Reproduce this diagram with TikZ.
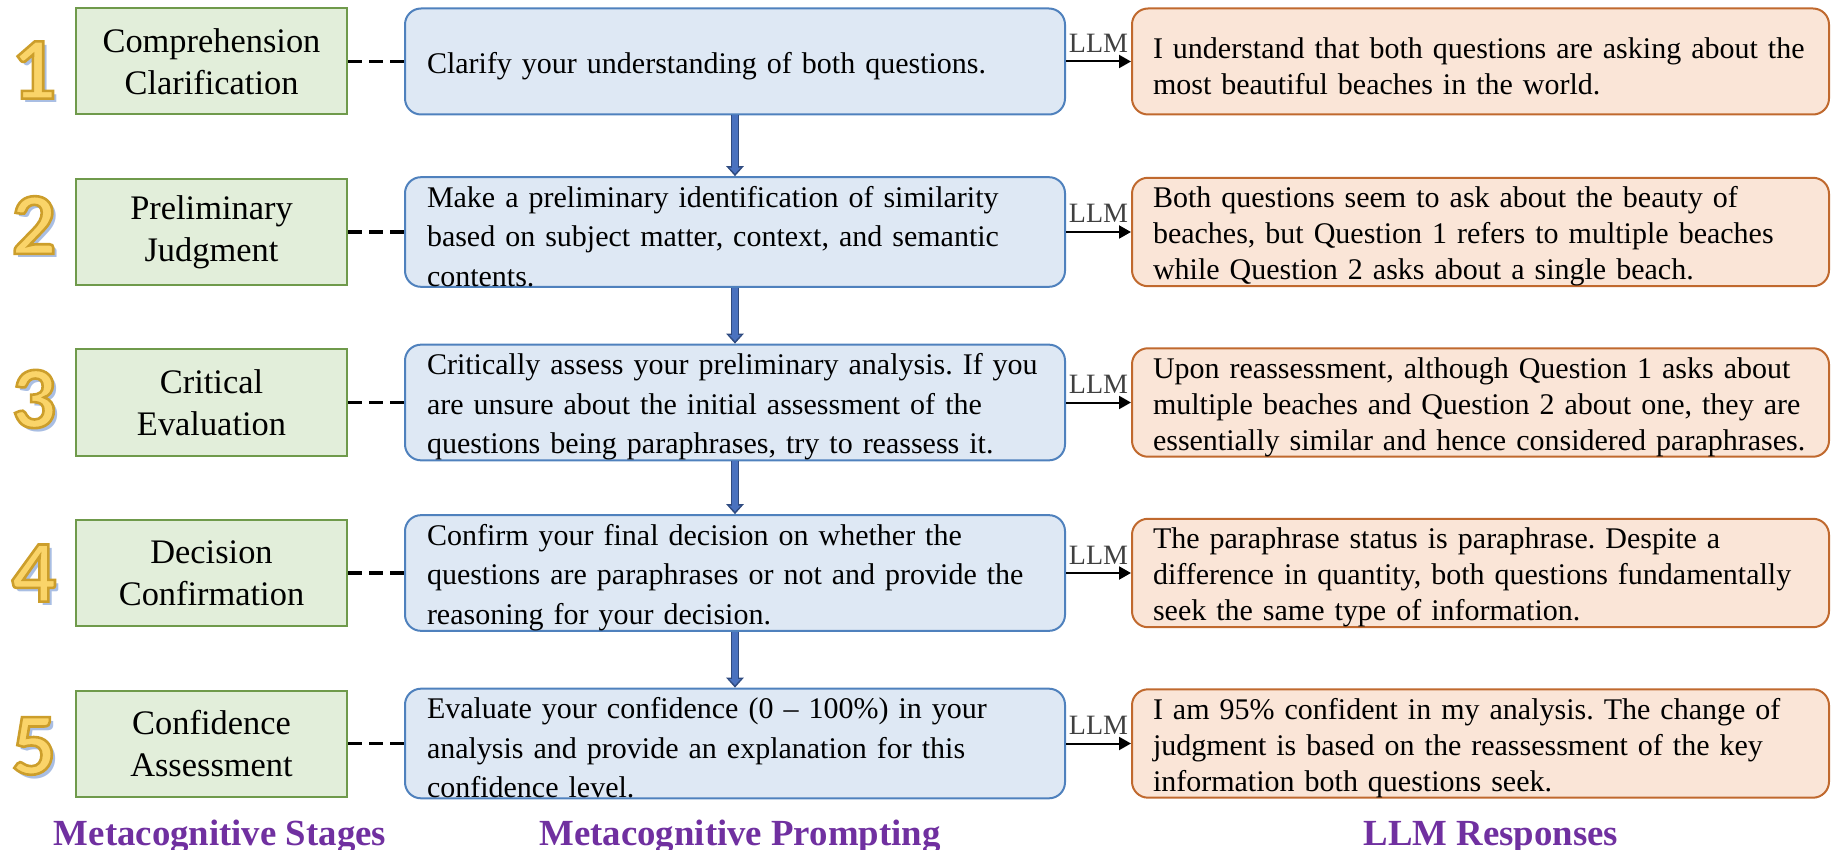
\documentclass[tikz,border=0pt]{standalone}
\usepackage{fontspec}
\setmainfont{Liberation Serif}
\newfontfamily\digitfont{Carlito}
\usetikzlibrary{arrows.meta}
\frenchspacing

\definecolor{stagefill}{HTML}{E2EEDA}
\definecolor{stagedraw}{HTML}{6F9A4B}
\definecolor{promptfill}{HTML}{DEE8F4}
\definecolor{promptdraw}{HTML}{4F81BD}
\definecolor{respfill}{HTML}{FAE5D7}
\definecolor{respdraw}{HTML}{C0692E}
\definecolor{digitfill}{HTML}{FAD469}
\definecolor{digitshadow}{HTML}{A9BEE3}
\definecolor{flowouter}{HTML}{2F4B80}
\definecolor{flowinner}{HTML}{4A72BF}
\definecolor{headpurple}{HTML}{7030A0}
\definecolor{llmgray}{HTML}{404040}

% stage number: yellow glyph with a golden stroked outline and a soft shadow
\newcommand{\stagedigit}[1]{{\digitfont\bfseries
  \makebox[0pt][l]{\hspace*{2pt}\raisebox{-2pt}{\textcolor{digitshadow}{#1}}}%
  {\color{digitfill}%
   \special{pdf:literal direct 2 Tr 1.3 w 0.80 0.62 0.17 RG}#1%
   \special{pdf:literal direct 0 Tr}}}}

% first-line strut that lowers the text block a little inside its box
\newcommand{\lowerstrut}[1]{\rule{0pt}{#1}}

\tikzset{
  stagebox/.style={draw=stagedraw, fill=stagefill, line width=1pt,
    minimum width=135.5pt, minimum height=53pt, inner sep=0pt,
    align=center, font=\fontsize{17.2}{20.8}\selectfont,
    execute at begin node={\lowerstrut{15pt}}},
  promptbox/.style={draw=promptdraw, fill=promptfill, line width=1pt,
    rounded corners=8pt, minimum width=330pt, minimum height=53pt,
    inner xsep=11pt, inner ysep=0pt, text width=308pt, align=left,
    font=\fontsize{15}{19.8}\selectfont,
    execute at begin node={\lowerstrut{15pt}}},
  respbox/.style={draw=respdraw, fill=respfill, line width=1pt,
    rounded corners=8pt, minimum width=348.5pt, minimum height=53pt,
    inner xsep=10.5pt, inner ysep=0pt, text width=327.5pt, align=left,
    font=\fontsize{15}{18}\selectfont,
    execute at begin node={\lowerstrut{15pt}}},
  stagenum/.style={inner sep=0pt, font=\fontsize{44}{44}\selectfont},
  stagelink/.style={line width=1.6pt, dash pattern=on 7pt off 3.5pt},
  llmarrow/.style={line width=1pt, -{Triangle[length=6pt,width=6.5pt]}},
  llmlabel/.style={above, inner sep=0pt, yshift=4pt, text=llmgray,
    font=\fontsize{14}{14}\selectfont},
  flowouter/.style={line width=4pt, draw=flowouter,
    -{Triangle[length=5pt,width=8.5pt]}},
  flowinner/.style={line width=2.6pt, draw=flowinner, shorten >=1.3pt,
    -{Triangle[length=3pt,width=5.5pt]}},
  columnhead/.style={inner sep=0pt, text=headpurple,
    font=\fontsize{18.4}{20}\selectfont\bfseries},
}

\begin{document}
\begin{tikzpicture}[x=0.5pt,y=-0.5pt]
\useasboundingbox (0,0) rectangle (1832,850);

% stage numbers
\node[stagenum] (n1) at (34,72)  {\stagedigit{1}};
\node[stagenum] (n2) at (34,227) {\stagedigit{2}};
\node[stagenum] (n3) at (34,401) {\stagedigit{3}};
\node[stagenum] (n4) at (34,575) {\stagedigit{4}};
\node[stagenum] (n5) at (34,748) {\stagedigit{5}};

% metacognitive stages
\node[stagebox] (s1) at (211.5,61.5)  {Comprehension\\Clarification};
\node[stagebox] (s2) at (211.5,232)   {Preliminary\\Judgment};
\node[stagebox] (s3) at (211.5,402.5) {Critical\\Evaluation};
\node[stagebox] (s4) at (211.5,573)   {Decision\\Confirmation};
\node[stagebox] (s5) at (211.5,743.5) {Confidence\\Assessment};

% prompts
\node[promptbox] (p1) at (735,61.5) {Clarify your understanding of both questions.};
\node[promptbox] (p2) at (735,232) {Make a preliminary identification of similarity\\based on subject matter, context, and semantic\\contents.};
\node[promptbox] (p3) at (735,402.5) {Critically assess your preliminary analysis. If you\\are unsure about the initial assessment of the\\questions being paraphrases, try to reassess it.};
\node[promptbox] (p4) at (735,573) {Confirm your final decision on whether the\\questions are paraphrases or not and provide the\\reasoning for your decision.};
\node[promptbox] (p5) at (735,743.5) {Evaluate your confidence (0 -- 100\%) in your\\analysis and provide an explanation for this\\confidence level.};

% responses
\node[respbox] (r1) at (1480.5,61.5) {I understand that both questions are asking about the\\most beautiful beaches in the world.};
\node[respbox] (r2) at (1480.5,232) {Both questions seem to ask about the beauty of\\beaches, but Question 1 refers to multiple beaches\\while Question 2 asks about a single beach.};
\node[respbox] (r3) at (1480.5,402.5) {Upon reassessment, although Question 1 asks about\\multiple beaches and Question 2 about one, they are\\essentially similar and hence considered paraphrases.};
\node[respbox] (r4) at (1480.5,573) {The paraphrase status is paraphrase. Despite a\\difference in quantity, both questions fundamentally\\seek the same type of information.};
\node[respbox] (r5) at (1480.5,743.5) {I am 95\% confident in my analysis. The change of\\judgment is based on the reassessment of the key\\information both questions seek.};

% stage to prompt links, prompt to response calls
\foreach \i in {1,...,5} {
  \draw[stagelink] (s\i.east) -- (p\i.west);
  \draw[llmarrow] (p\i.east) -- node[llmlabel] (l\i) {LLM} (r\i.west);
}

% flow between prompts
\foreach \i/\j in {1/2,2/3,3/4,4/5} {
  \draw[flowouter] (p\i.south) -- (p\j.north);
  \draw[flowinner] (p\i.south) -- (p\j.north);
}

% column headings
\node[columnhead] (h1) at (220,837) {Metacognitive Stages};
\node[columnhead] (h2) at (740,837) {Metacognitive Prompting};
\node[columnhead] (h3) at (1491,837) {LLM Responses};
\end{tikzpicture}
\end{document}
